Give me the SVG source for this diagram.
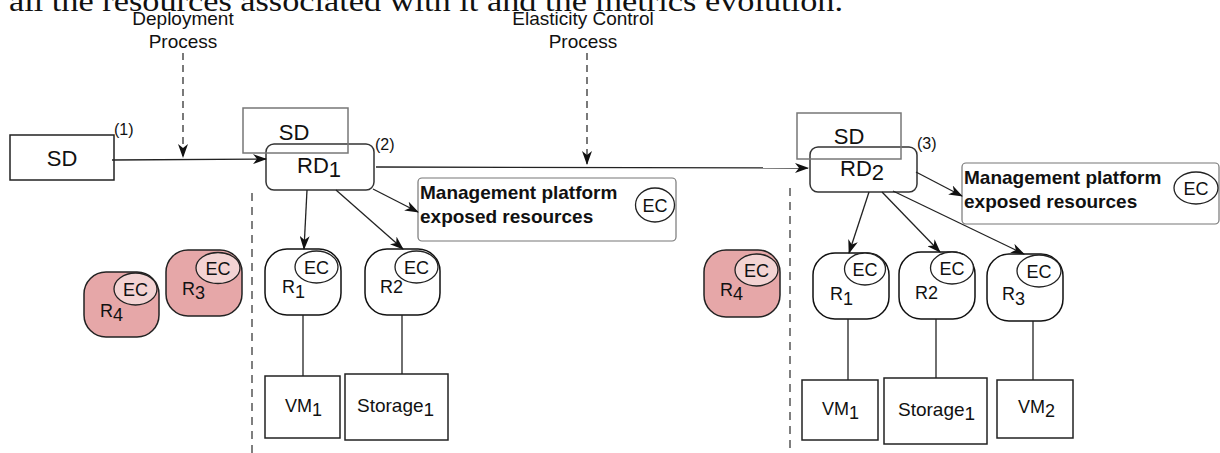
<svg xmlns="http://www.w3.org/2000/svg" width="1220" height="453" viewBox="0 0 1220 453">
<style>
text{font-family:"Liberation Sans",Arial,sans-serif;fill:#111}
.lbl{font-size:19px}
.big{font-size:22px}
.ec{font-size:18px}
.nm{font-size:18px}
.bold{font-size:19px;font-weight:bold}
.box{fill:#fff;stroke:#222;stroke-width:1.5}
.sdov{fill:none;stroke:#777;stroke-width:1.5}
.rd{fill:#fff;stroke:#333;stroke-width:1.5}
.mp{fill:#fff;stroke:#777;stroke-width:1.2}
.res{fill:#fff;stroke:#111;stroke-width:1.5}
.pink{fill:#e6a7a8;stroke:#222;stroke-width:1.5}
.ecw{fill:#fff;stroke:#222;stroke-width:1.3}
.ecp{fill:#f3d3d3;stroke:#222;stroke-width:1.3}
.ln{fill:none;stroke:#222;stroke-width:1.3}
.arr{fill:none;stroke:#222;stroke-width:1.3;marker-end:url(#ah)}
.dash{fill:none;stroke:#333;stroke-width:1.3;stroke-dasharray:7,5}
.vdash{fill:none;stroke:#555;stroke-width:1.5;stroke-dasharray:8,6}
</style>
<defs>
<marker id="ah" viewBox="0 0 14 10" refX="13" refY="5" markerWidth="14" markerHeight="10" markerUnits="userSpaceOnUse" orient="auto">
<path d="M0,0 L14,5 L0,10 L4,5 z" fill="#111"/>
</marker>
</defs>
<rect width="1220" height="453" fill="#fff"/>
<text x="9" y="11" style="font-family:'Liberation Serif','Times New Roman',serif;font-size:30px" textLength="834" lengthAdjust="spacingAndGlyphs">all the resources associated with it and the metrics evolution.</text>

<g id="deploy-label">
<text class="lbl" x="183" y="25" text-anchor="middle">Deployment</text>
<text class="lbl" x="183" y="48" text-anchor="middle">Process</text>
</g>
<g id="elastic-label">
<text class="lbl" x="583" y="25" text-anchor="middle">Elasticity Control</text>
<text class="lbl" x="583" y="48" text-anchor="middle">Process</text>
</g>

<g id="sd1">
<rect class="box" x="10" y="135" width="104" height="45"/>
<text class="big" x="62" y="166" text-anchor="middle">SD</text>
<text class="lbl" x="114" y="135" style="font-size:16px">(1)</text>
</g>

<g id="rd1">
<rect class="rd" x="266" y="144" width="108" height="46" rx="8"/>
<rect class="sdov" x="243" y="108" width="105" height="45"/>
<text class="big" x="294" y="140" text-anchor="middle">SD</text>
<text class="big" x="297" y="173">RD<tspan dy="4">1</tspan></text>
<text class="lbl" x="375" y="150" style="font-size:16px">(2)</text>
</g>

<g id="mp1">
<rect class="mp" x="418" y="178" width="258" height="63" rx="4"/>
<text class="bold" x="420" y="199">Management platform</text>
<text class="bold" x="420" y="223">exposed resources</text>
<ellipse class="ecw" cx="655" cy="205" rx="19.5" ry="17"/>
<text class="ec" x="655" y="212" text-anchor="middle">EC</text>
</g>

<g id="r4-left">
<rect class="pink" x="84" y="272" width="75" height="65" rx="22"/>
<ellipse class="ecp" cx="135.5" cy="289" rx="21.5" ry="16"/>
<text class="ec" x="135.5" y="296" text-anchor="middle">EC</text>
<text class="nm" x="100" y="317">R<tspan dy="4">4</tspan></text>
</g>
<g id="r3-left">
<rect class="pink" x="166" y="250" width="76" height="66" rx="22"/>
<ellipse class="ecp" cx="218" cy="268" rx="22" ry="15.5"/>
<text class="ec" x="218" y="275" text-anchor="middle">EC</text>
<text class="nm" x="182" y="295">R<tspan dy="4">3</tspan></text>
</g>

<g id="r1-a">
<rect class="res" x="265" y="249" width="76" height="66" rx="22"/>
<ellipse class="ecw" cx="316.5" cy="267" rx="21.5" ry="16"/>
<text class="ec" x="316.5" y="274" text-anchor="middle">EC</text>
<text class="nm" x="282" y="293">R<tspan dy="5">1</tspan></text>
</g>
<g id="r2-a">
<rect class="res" x="365" y="249" width="75" height="66" rx="22"/>
<ellipse class="ecw" cx="416.5" cy="267" rx="21.5" ry="16"/>
<text class="ec" x="416.5" y="274" text-anchor="middle">EC</text>
<text class="nm" x="380" y="293">R2</text>
</g>
<g id="vm1-a">
<rect class="box" x="265" y="376" width="75" height="62"/>
<text class="nm" x="285" y="412">VM<tspan dy="4">1</tspan></text>
</g>
<g id="storage1-a">
<rect class="box" x="345" y="374" width="103" height="66"/>
<text class="nm" x="357" y="412" style="font-size:19px">Storage<tspan dy="4">1</tspan></text>
</g>

<g id="rd2">
<rect class="rd" x="810" y="147" width="107" height="45" rx="8"/>
<rect class="sdov" x="797" y="113" width="104" height="46"/>
<text class="big" x="849" y="144" text-anchor="middle">SD</text>
<text class="big" x="840" y="176">RD<tspan dy="4">2</tspan></text>
<text class="lbl" x="917" y="149" style="font-size:16px">(3)</text>
</g>

<g id="mp2">
<rect class="mp" x="962" y="163" width="257" height="61" rx="4"/>
<text class="bold" x="964" y="184">Management platform</text>
<text class="bold" x="964" y="208">exposed resources</text>
<ellipse class="ecw" cx="1196" cy="188" rx="22" ry="16"/>
<text class="ec" x="1196" y="195" text-anchor="middle">EC</text>
</g>

<g id="r4-right">
<rect class="pink" x="704" y="250" width="76" height="67" rx="22"/>
<ellipse class="ecp" cx="756.5" cy="270" rx="21.5" ry="16"/>
<text class="ec" x="756.5" y="277" text-anchor="middle">EC</text>
<text class="nm" x="720" y="296">R<tspan dy="4">4</tspan></text>
</g>
<g id="r1-b">
<rect class="res" x="813" y="253" width="76" height="66" rx="22"/>
<ellipse class="ecw" cx="865" cy="269" rx="20.5" ry="16"/>
<text class="ec" x="865" y="276" text-anchor="middle">EC</text>
<text class="nm" x="830" y="300">R<tspan dy="5">1</tspan></text>
</g>
<g id="r2-b">
<rect class="res" x="899" y="252" width="76" height="67" rx="22"/>
<ellipse class="ecw" cx="952" cy="268" rx="21.5" ry="16"/>
<text class="ec" x="952" y="275" text-anchor="middle">EC</text>
<text class="nm" x="915" y="299">R2</text>
</g>
<g id="r3-b">
<rect class="res" x="987" y="254" width="76" height="67" rx="22"/>
<ellipse class="ecw" cx="1039" cy="271" rx="22" ry="16"/>
<text class="ec" x="1039" y="278" text-anchor="middle">EC</text>
<text class="nm" x="1002" y="300">R<tspan dy="5">3</tspan></text>
</g>
<g id="vm1-b">
<rect class="box" x="802" y="380" width="76" height="60"/>
<text class="nm" x="822" y="415">VM<tspan dy="4">1</tspan></text>
</g>
<g id="storage1-b">
<rect class="box" x="884" y="378" width="103" height="66"/>
<text class="nm" x="898" y="416" style="font-size:19px">Storage<tspan dy="4">1</tspan></text>
</g>
<g id="vm2">
<rect class="box" x="997" y="380" width="76" height="58"/>
<text class="nm" x="1018" y="413">VM<tspan dy="4">2</tspan></text>
</g>

<g id="connectors">
<line class="vdash" x1="252" y1="193" x2="252" y2="453"/>
<line class="vdash" x1="790" y1="188" x2="790" y2="450"/>
<line class="dash" x1="183" y1="53" x2="183" y2="157" marker-end="url(#ah)"/>
<line class="dash" x1="587" y1="53" x2="587" y2="164" marker-end="url(#ah)"/>
<line class="arr" x1="112" y1="160" x2="266" y2="159"/>
<line class="arr" x1="376" y1="167" x2="808" y2="168"/>
<line class="arr" x1="307" y1="190" x2="304" y2="249"/>
<line class="arr" x1="336" y1="190" x2="403" y2="249"/>
<line class="arr" x1="373" y1="189" x2="418" y2="212"/>
<line class="arr" x1="916" y1="172" x2="962" y2="196"/>
<line class="arr" x1="869" y1="192" x2="849" y2="253"/>
<line class="arr" x1="882" y1="192" x2="940" y2="252"/>
<line class="arr" x1="893" y1="191" x2="1024" y2="254"/>
<line class="ln" x1="303" y1="315" x2="303" y2="376"/>
<line class="ln" x1="402" y1="315" x2="402" y2="374"/>
<line class="ln" x1="848" y1="319" x2="848" y2="380"/>
<line class="ln" x1="936" y1="319" x2="936" y2="378"/>
<line class="ln" x1="1033" y1="321" x2="1033" y2="380"/>
</g>
</svg>
